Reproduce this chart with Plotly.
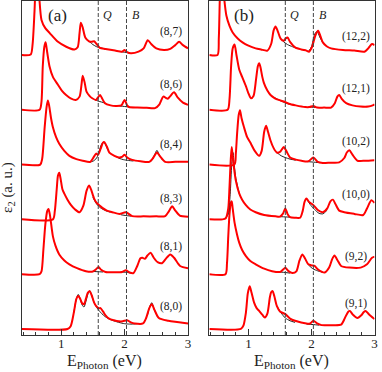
import plotly.graph_objects as go

# ---------------- Panel (a) : (8,m) tubes ----------------
E87 = [0.38,0.52,0.55,0.58,0.61,0.64,0.69,0.75,0.82,0.95,1.08,1.21,1.26,1.29,1.31,1.34,1.38,1.44,1.48,1.52,1.56,1.61,1.70,1.85,1.96,2.00,2.04,2.10,2.22,2.30,2.365,2.42,2.50,2.62,2.72,2.80,2.86,2.92,3.0]
R87 = [0,0.01,0.2,0.8,1.6,1.3,0.64,0.49,0.40,0.24,0.15,0.10,0.14,0.40,0.59,0.50,0.32,0.25,0.24,0.25,0.20,0.13,0.11,0.08,0.06,0.09,0.05,0.03,0.06,0.12,0.27,0.20,0.12,0.09,0.11,0.18,0.24,0.18,0.12]
BE87 = [1.44,1.50,1.56,1.62,1.70,None,1.92,2.0,2.08]
B87 = [0.25,0.19,0.15,0.13,0.11,None,0.065,0.05,0.035]

E86 = [0.38,0.66,0.69,0.71,0.735,0.755,0.78,0.817,0.87,0.947,1.01,1.078,1.15,1.23,1.29,1.32,1.34,1.37,1.40,1.45,1.49,1.55,1.59,1.614,1.64,1.69,1.78,1.86,1.95,2.0,2.04,2.07,2.2,2.35,2.48,2.55,2.61,2.66,2.68,2.72,2.78,2.84,2.92,3.0]
R86 = [0,0,0.15,0.79,1.15,1.23,1.05,0.79,0.60,0.46,0.35,0.27,0.21,0.18,0.24,0.45,0.62,0.50,0.33,0.25,0.21,0.18,0.24,0.27,0.22,0.12,0.08,0.07,0.08,0.18,0.08,0.05,0.04,0.035,0.03,0.10,0.24,0.21,0.20,0.25,0.32,0.22,0.13,0.09]
BE86 = [1.52,1.58,1.64,1.70,None,1.92,2.0,2.08]
B86 = [0.19,0.16,0.14,0.12,None,0.07,0.06,0.05]

E84 = [0.38,0.67,0.70,0.74,0.77,0.79,0.81,0.84,0.87,0.92,0.97,1.05,1.13,1.24,1.34,1.46,1.52,1.55,1.58,1.62,1.66,1.68,1.72,1.76,1.84,1.91,1.96,2.0,2.04,2.12,2.25,2.39,2.45,2.51,2.56,2.64,2.8,3.0]
R84 = [0,0,0.1,0.68,1.05,1.17,1.08,0.85,0.68,0.5,0.38,0.25,0.16,0.1,0.07,0.05,0.15,0.2,0.18,0.28,0.40,0.41,0.33,0.22,0.16,0.13,0.14,0.18,0.13,0.085,0.06,0.05,0.12,0.22,0.15,0.05,0.05,0.05]
BE84 = [1.44,1.50,1.56,1.60,1.64,1.67,1.70,1.74,None,1.90,1.98,2.06,2.14,None,2.42,2.47,2.51,2.55,2.60]
B84 = [0.05,0.06,0.12,0.25,0.38,0.41,0.36,0.26,None,0.12,0.09,0.075,0.065,None,0.06,0.17,0.26,0.17,0.08]

E83 = [0.38,0.87,0.90,0.93,0.95,0.97,0.99,1.02,1.05,1.10,1.156,1.22,1.29,1.35,1.40,1.44,1.47,1.52,1.56,1.60,1.65,1.72,1.81,1.92,2.02,2.12,2.3,2.5,2.64,2.70,2.75,2.80,2.87,3.0]
R83 = [0,0,0.15,0.55,0.8,0.85,0.75,0.55,0.47,0.36,0.26,0.18,0.13,0.25,0.52,0.62,0.55,0.38,0.30,0.26,0.21,0.16,0.13,0.10,0.13,0.06,0.055,0.055,0.06,0.15,0.24,0.16,0.07,0.05]
BE83 = [1.50,1.56,1.62,1.70,1.78,None,1.94,2.02,2.10]
B83 = [0.40,0.28,0.21,0.16,0.13,None,0.085,0.07,0.06]

E81 = [0.38,0.66,0.69,0.72,0.75,0.78,0.80,0.82,0.85,0.87,0.91,0.97,1.05,1.13,1.25,1.39,1.50,1.55,1.59,1.63,1.70,1.85,1.96,2.02,2.08,2.14,2.20,2.25,2.28,2.32,2.36,2.41,2.46,2.52,2.59,2.65,2.72,2.78,2.875,3.0]
R81 = [0,0,0.05,0.45,0.9,1.15,1.19,1.1,0.85,0.69,0.52,0.36,0.25,0.18,0.11,0.055,0.05,0.09,0.13,0.08,0.04,0.035,0.04,0.07,0.03,0.02,0.15,0.29,0.30,0.28,0.34,0.39,0.3,0.22,0.2,0.28,0.36,0.3,0.15,0.11]
BE81 = [1.50,1.58,1.66,None,1.94,2.02,2.10]
B81 = [0.05,0.045,0.04,None,0.04,0.035,0.02]

E80 = [0.38,1.10,1.15,1.20,1.24,1.27,1.30,1.33,1.36,1.39,1.42,1.45,1.48,1.52,1.55,1.59,1.62,1.66,1.70,1.755,1.83,1.91,1.97,2.04,2.10,2.16,2.29,2.34,2.39,2.43,2.47,2.54,2.69,3.0]
R80 = [0,0,0.05,0.3,0.55,0.60,0.55,0.47,0.45,0.55,0.66,0.69,0.62,0.48,0.42,0.38,0.38,0.32,0.25,0.19,0.16,0.14,0.14,0.16,0.12,0.10,0.10,0.2,0.38,0.45,0.35,0.2,0.15,0.10]
BE80 = [1.20,1.24,1.27,1.30,1.33,1.36,1.39,1.42,1.45,1.48,1.52,1.58,1.64,1.70,1.78,1.88,1.98,2.06,2.14,2.22,None,2.36,2.40,2.43,2.46,2.52]
B80 = [0.3,0.55,0.63,0.55,0.44,0.40,0.50,0.63,0.70,0.62,0.48,0.36,0.28,0.22,0.17,0.13,0.10,0.09,0.09,0.10,None,0.25,0.42,0.48,0.38,0.22]

# ---------------- Panel (b) ----------------
E122 = [0.38,0.51,0.53,0.55,0.57,0.60,0.65,0.70,0.75,0.83,0.906,1.0,1.115,1.2,1.30,1.36,1.40,1.43,1.46,1.51,1.56,1.59,1.62,1.66,1.74,1.84,1.92,1.96,2.01,2.06,2.105,2.14,2.18,2.24,2.31,2.5,2.68,2.84,2.90,2.96,3.0]
R122 = [0,0,0.3,1.2,1.6,1.2,0.72,0.53,0.41,0.3,0.23,0.17,0.12,0.1,0.08,0.2,0.45,0.52,0.45,0.30,0.26,0.30,0.32,0.24,0.14,0.10,0.08,0.06,0.15,0.35,0.44,0.35,0.23,0.16,0.12,0.09,0.08,0.06,0.12,0.2,0.18]
BE122 = [1.50,1.56,1.62,1.70,1.78,None,1.95,2.0,2.05,2.09,2.13,2.18]
B122 = [0.31,0.24,0.19,0.15,0.12,None,0.06,0.15,0.38,0.43,0.33,0.22]

E121 = [0.38,0.67,0.70,0.725,0.75,0.78,0.81,0.855,0.90,0.96,1.00,1.04,1.08,1.12,1.15,1.17,1.19,1.22,1.245,1.30,1.35,1.42,1.48,1.56,1.64,1.75,1.90,1.97,2.03,2.09,2.2,2.31,2.37,2.41,2.44,2.48,2.55,2.65,2.78,2.9,2.97,3.0]
R121 = [0,0,0.2,0.79,1.12,1.19,1.0,0.73,0.6,0.43,0.3,0.21,0.25,0.55,0.8,0.85,0.78,0.6,0.49,0.35,0.27,0.21,0.18,0.15,0.11,0.08,0.05,0.05,0.07,0.04,0.04,0.04,0.12,0.24,0.27,0.2,0.12,0.08,0.06,0.06,0.08,0.1]
BE121 = [1.40,1.50,1.60,1.70,None,1.95,2.03,2.11]
B121 = [0.23,0.17,0.12,0.09,None,0.05,0.045,0.04]

E102 = [0.38,0.776,0.80,0.82,0.845,0.866,0.89,0.93,0.98,1.04,1.10,1.17,1.21,1.25,1.28,1.31,1.35,1.40,1.45,1.50,1.56,1.60,1.66,1.75,1.84,1.95,2.03,2.10,2.18,2.3,2.44,2.52,2.56,2.6,2.65,2.73,2.85,3.0]
R102 = [0,0,0.2,0.56,0.9,0.99,0.85,0.68,0.5,0.38,0.25,0.16,0.25,0.6,0.71,0.6,0.44,0.3,0.22,0.23,0.32,0.25,0.13,0.09,0.07,0.06,0.13,0.05,0.03,0.035,0.04,0.12,0.22,0.26,0.18,0.07,0.07,0.08]
BE102 = [1.45,1.52,1.58,1.66,1.75,None,1.93,2.03,2.13]
B102 = [0.22,0.16,0.13,0.1,0.08,None,0.055,0.045,0.035]

E100 = [0.38,0.59,0.64,0.68,0.70,0.72,0.735,0.75,0.77,0.80,0.855,0.9,0.96,1.03,1.115,1.25,1.43,1.50,1.545,1.585,1.62,1.66,1.74,1.82,1.86,1.89,1.92,1.96,2.03,2.1,2.18,2.25,2.30,2.34,2.38,2.44,2.52,2.68,2.82,2.88,2.95,3.0]
R100 = [0,0,0.02,0.2,0.6,1.1,1.32,1.15,0.95,0.71,0.47,0.36,0.26,0.18,0.13,0.08,0.055,0.05,0.1,0.2,0.1,0.04,0.03,0.03,0.15,0.32,0.38,0.32,0.26,0.17,0.13,0.2,0.33,0.36,0.28,0.16,0.13,0.1,0.08,0.2,0.35,0.3]
BE100 = [0.64,0.68,0.71,0.735,0.755,0.775,0.80,0.855,None,1.50,1.585,1.66,None,1.92,1.98,2.05,2.12,2.18,2.25]
B100 = [0.02,0.1,0.45,1.0,1.22,1.0,0.75,0.47,None,0.05,0.045,0.04,None,0.38,0.27,0.18,0.11,0.1,0.17]

E92 = [0.38,0.636,0.66,0.68,0.70,0.72,0.735,0.75,0.78,0.82,0.855,0.9,0.96,1.03,1.115,1.25,1.375,1.5,1.545,1.585,1.63,1.7,1.76,1.81,1.855,1.90,1.95,2.0,2.05,2.1,2.21,2.28,2.33,2.365,2.41,2.47,2.6,2.78,2.88,2.96,3.0]
R92 = [0,0,0.2,0.69,1.1,1.3,1.33,1.2,0.94,0.72,0.57,0.44,0.33,0.24,0.18,0.1,0.055,0.04,0.08,0.115,0.06,0.02,0.05,0.25,0.36,0.28,0.18,0.16,0.15,0.09,0.03,0.12,0.28,0.34,0.26,0.15,0.12,0.12,0.18,0.3,0.32]
BE92 = [1.5,1.585,1.66,None,1.95,2.02,2.1,2.18]
B92 = [0.04,0.03,0.02,None,0.17,0.10,0.06,0.035]

E91 = [0.38,0.88,0.92,0.96,0.99,1.02,1.05,1.09,1.13,1.17,1.22,1.26,1.30,1.34,1.36,1.385,1.41,1.45,1.5,1.585,1.66,1.74,1.92,1.98,2.03,2.09,2.16,2.3,2.47,2.53,2.58,2.61,2.65,2.73,2.79,2.83,2.86,2.91,3.0]
R91 = [0,0,0.06,0.3,0.65,0.78,0.66,0.48,0.38,0.33,0.26,0.21,0.28,0.58,0.67,0.69,0.6,0.42,0.32,0.27,0.19,0.15,0.1,0.1,0.15,0.1,0.07,0.07,0.08,0.2,0.31,0.33,0.27,0.2,0.25,0.31,0.33,0.27,0.18]
BE91 = [1.45,1.52,1.585,1.66,1.74,None,1.92,2.03,2.12]
B91 = [0.42,0.29,0.2,0.15,0.12,None,0.09,0.08,0.07]

LABELS_A = ["(8,0)", "(8,1)", "(8,3)", "(8,4)", "(8,6)", "(8,7)"]
LABELS_B = ["(9,1)", "(9,2)", "(10,0)", "(10,2)", "(12,1)", "(12,2)"]
Q_E = 1.585
B_E = 2.03

panel_a = [(E80, R80, BE80, B80), (E81, R81, BE81, B81), (E83, R83, BE83, B83),
           (E84, R84, BE84, B84), (E86, R86, BE86, B86), (E87, R87, BE87, B87)]
panel_b = [(E91, R91, BE91, B91), (E92, R92, BE92, B92), (E100, R100, BE100, B100),
           (E102, R102, BE102, B102), (E121, R121, BE121, B121), (E122, R122, BE122, B122)]

lab_h_a = [0.41, 0.50, 0.39, 0.36, 0.47, 0.42]
lab_h_b = [0.47, 0.33, 0.46, 0.42, 0.39, 0.33]

FONT = "Liberation Serif"
fig = go.Figure()
OFFSET = 1.0

for axis_id, panel in (("", panel_a), ("2", panel_b)):
    for i, (e, r, be, b) in enumerate(panel):
        off = i * OFFSET
        fig.add_trace(go.Scatter(
            x=be, y=[v + off if v is not None else None for v in b],
            mode="lines", line=dict(color="#222222", width=1, shape="spline", smoothing=0.7),
            xaxis="x" + axis_id, yaxis="y" + axis_id, hoverinfo="skip", connectgaps=False))
        fig.add_trace(go.Scatter(
            x=e, y=[v + off for v in r],
            mode="lines", line=dict(color="#ff0000", width=2, shape="spline", smoothing=0.7),
            xaxis="x" + axis_id, yaxis="y" + axis_id, hoverinfo="skip"))

W, H = 382, 372
xa_dom = [22 / W, 189.5 / W]
xb_dom = [211 / W, 377.5 / W]
y_dom = [(H - 335) / H, (H - 1) / H]

axis_common = dict(range=[0.38, 3.0], showline=True, mirror=True, linecolor="#333333", linewidth=1.3,
                   ticks="inside", ticklen=6, tickwidth=1, tickcolor="#333333",
                   tickvals=[1, 2, 3], ticktext=["1", "2", "3"],
                   tickfont=dict(family=FONT, size=13, color="#222222"), ticklabelstandoff=-4,
                   minor=dict(dtick=0.2, tick0=0, ticks="inside", ticklen=3, tickcolor="#333333"),
                   showgrid=False, zeroline=False)
yaxis_common = dict(range=[-0.11, 5.985], showline=True, mirror=True, linecolor="#333333", linewidth=1.3,
                    showticklabels=False, ticks="", showgrid=False, zeroline=False, domain=y_dom)

fig.update_layout(
    width=W, height=H, margin=dict(l=0, r=0, t=0, b=0),
    paper_bgcolor="white", plot_bgcolor="white", showlegend=False,
    xaxis=dict(domain=xa_dom, anchor="y", **axis_common),
    yaxis=dict(anchor="x", **yaxis_common),
    xaxis2=dict(domain=xb_dom, anchor="y2", **axis_common),
    yaxis2=dict(anchor="x2", **yaxis_common),
)

for xr, yr in (("x", "y"), ("x2", "y2")):
    for xe in (Q_E, B_E):
        fig.add_shape(type="line", x0=xe, x1=xe, y0=0, y1=1, xref=xr, yref=yr + " domain",
                      line=dict(color="#444444", width=1, dash="4px,2px"))
    fig.add_annotation(x=Q_E + 0.05, y=5.73, xref=xr, yref=yr, text="<i>Q</i>", showarrow=False,
                       xanchor="left", font=dict(family=FONT, size=12, color="#222222"))
    fig.add_annotation(x=B_E + 0.05, y=5.73, xref=xr, yref=yr, text="<i>B</i>", showarrow=False,
                       xanchor="left", font=dict(family=FONT, size=12, color="#222222"))

fig.add_annotation(x=0.94, y=5.72, xref="x", yref="y", text="(a)", showarrow=False,
                   xanchor="center", font=dict(family=FONT, size=17, color="#222222"))
fig.add_annotation(x=0.93, y=5.72, xref="x2", yref="y2", text="(b)", showarrow=False,
                   xanchor="center", font=dict(family=FONT, size=17, color="#222222"))

for i, lab in enumerate(LABELS_A):
    fig.add_annotation(x=2.73, y=i * OFFSET + lab_h_a[i], xref="x", yref="y", text=lab, showarrow=False,
                       xanchor="center", font=dict(family=FONT, size=11.5, color="#222222"))
for i, lab in enumerate(LABELS_B):
    fig.add_annotation(x=2.71, y=i * OFFSET + lab_h_b[i], xref="x2", yref="y2", text=lab, showarrow=False,
                       xanchor="center", font=dict(family=FONT, size=11.5, color="#222222"))

for xc in ((xa_dom[0] + xa_dom[1]) / 2, (xb_dom[0] + xb_dom[1]) / 2):
    fig.add_annotation(x=xc, y=0, xref="paper", yref="paper", xanchor="center", yanchor="bottom",
                       yshift=-1, text="E<sub>Photon</sub> (eV)", showarrow=False,
                       font=dict(family=FONT, size=16, color="#222222"))

fig.add_annotation(x=8 / W, y=(H - 187) / H, xref="paper", yref="paper", xanchor="center",
                   yanchor="middle", text="ε<sub>2</sub> (a. u.)", showarrow=False, textangle=-90,
                   font=dict(family=FONT, size=15, color="#222222"))

fig.write_html("out.html", config={"displayModeBar": False, "staticPlot": True},
               post_script="document.body.style.margin='0';document.body.style.padding='0';"
                           "document.body.style.overflow='hidden';")
